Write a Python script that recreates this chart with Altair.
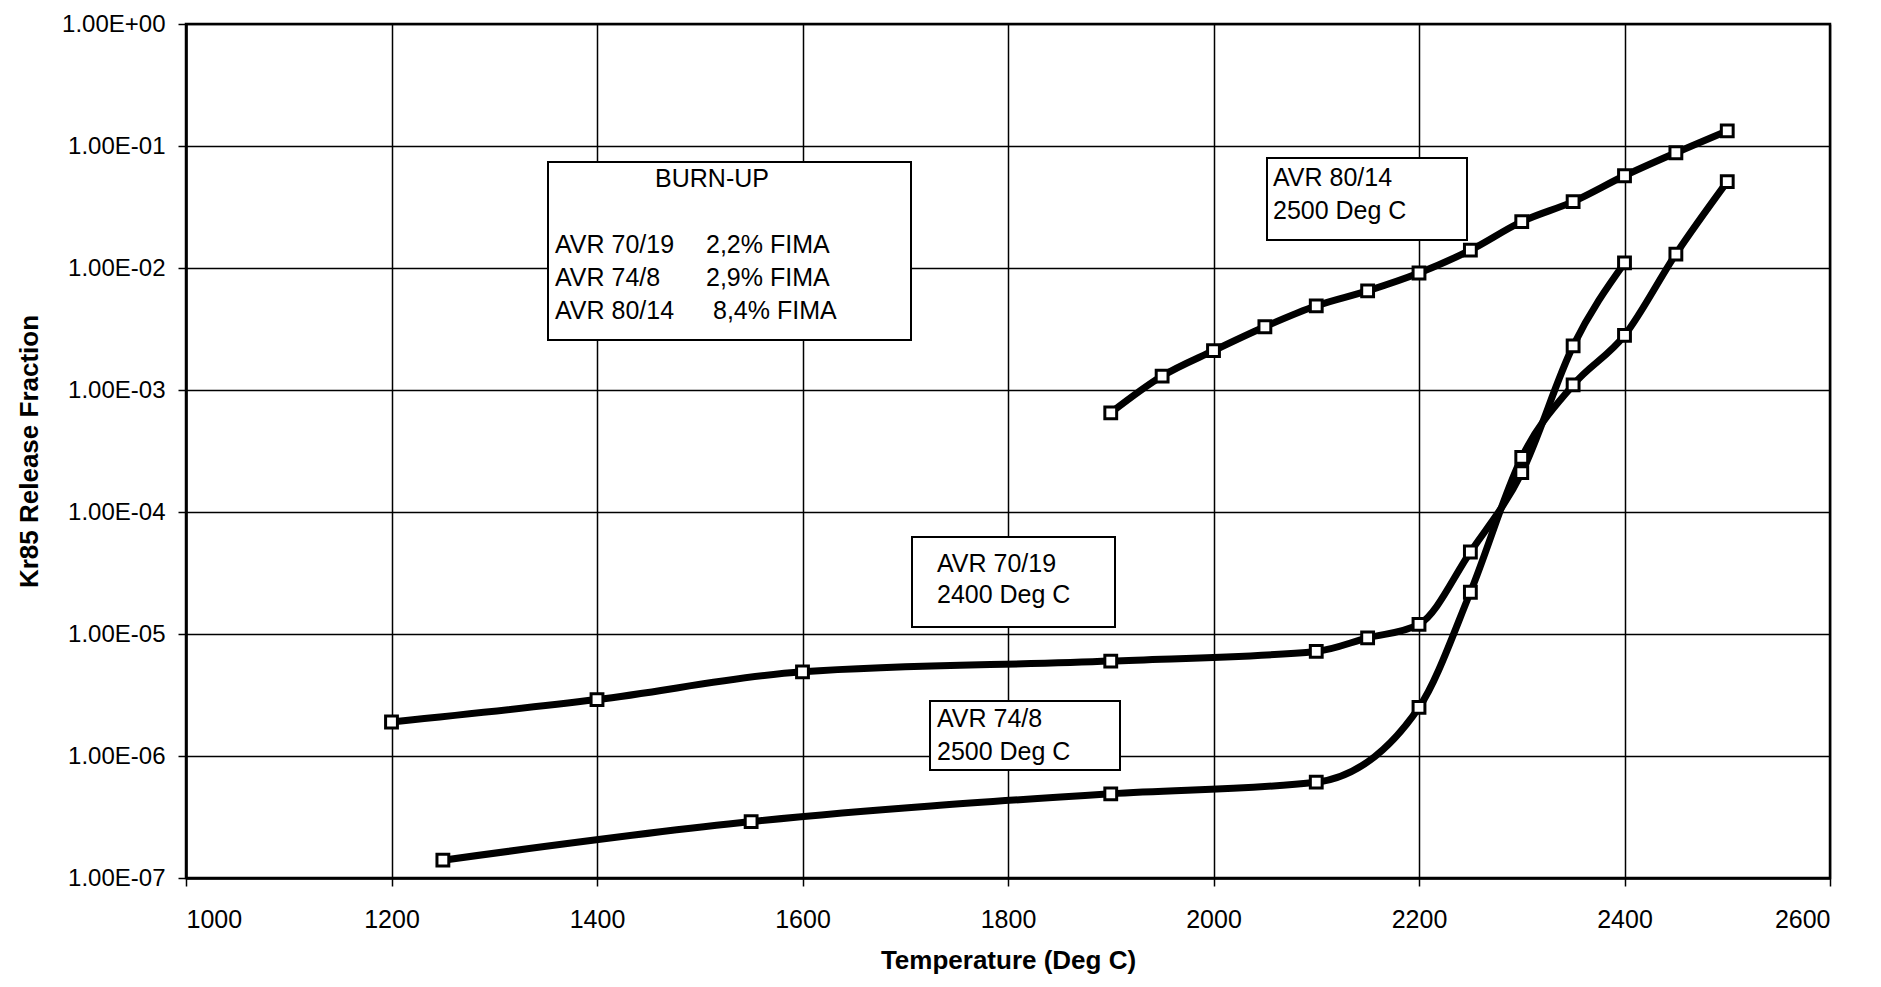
import altair as alt
import pandas as pd

# ---- data ----
temp_7019 = [1200, 1400, 1600, 1900, 2100, 2150, 2200, 2250, 2300, 2350, 2400]
frac_7019 = [1.9e-6, 2.9e-6, 4.9e-6, 6.0e-6, 7.2e-6, 9.3e-6, 1.2e-5, 4.7e-5, 2.1e-4, 2.3e-3, 1.1e-2]

temp_748 = [1250, 1550, 1900, 2100, 2200, 2250, 2300, 2350, 2400, 2450, 2500]
frac_748 = [1.4e-7, 2.9e-7, 4.9e-7, 6.1e-7, 2.5e-6, 2.2e-5, 2.8e-4, 1.1e-3, 2.8e-3, 1.3e-2, 5.1e-2]

temp_8014 = [1900, 1950, 2000, 2050, 2100, 2150, 2200, 2250, 2300, 2350, 2400, 2450, 2500]
frac_8014 = [6.5e-4, 1.3e-3, 2.1e-3, 3.3e-3, 4.9e-3, 6.5e-3, 9.1e-3, 1.4e-2, 2.4e-2, 3.5e-2, 5.7e-2, 8.8e-2, 1.33e-1]

series_names = ["AVR 70/19", "AVR 74/8", "AVR 80/14"]
x_ticks = [1000, 1200, 1400, 1600, 1800, 2000, 2200, 2400, 2600]
y_ticks = [1e-7, 1e-6, 1e-5, 1e-4, 1e-3, 1e-2, 1e-1, 1.0]

burnup_title = "BURN-UP"
burnup_names = ["AVR 70/19", "AVR 74/8", "AVR 80/14"]
burnup_values = ["2,2% FIMA", "2,9% FIMA", "8,4% FIMA"]
label_8014 = ["AVR 80/14", "2500 Deg C"]
label_7019 = ["AVR 70/19", "2400 Deg C"]
label_748 = ["AVR 74/8", "2500 Deg C"]

rows = []
for name, ts, fs in zip(series_names, [temp_7019, temp_748, temp_8014], [frac_7019, frac_748, frac_8014]):
    for t, f in zip(ts, fs):
        rows.append({"series": name, "temp": t, "frac": f})
df = pd.DataFrame(rows)

FONT = "Liberation Sans"
W, H = 1644, 854

x_enc = alt.X(
    "temp:Q",
    scale=alt.Scale(domain=[1000, 2600], nice=False, zero=False),
    axis=alt.Axis(
        values=x_ticks, title="Temperature (Deg C)", format="d",
        labelFontSize=25, labelPadding=21,
        titleX=W / 2, titleY=82, titleAlign="center", titleBaseline="middle",
    ),
)
y_enc = alt.Y(
    "frac:Q",
    scale=alt.Scale(type="log", domain=[1e-7, 1], nice=False),
    axis=alt.Axis(
        values=y_ticks, title="Kr85 Release Fraction",
        labelExpr="datum.value >= 1 ? '1.00E+00' : '1.00E-0' + round(-log(datum.value) / LN10)",
        labelFontSize=24, labelPadding=13,
        titleX=-157, titleY=H / 2, titleAngle=270, titleAlign="center", titleBaseline="middle",
    ),
)

base = alt.Chart(df)
lines = base.mark_line(interpolate="monotone", color="black", strokeWidth=7, strokeJoin="round").encode(
    x=x_enc, y=y_enc, detail="series:N"
)
points = base.mark_point(
    shape="square", filled=True, fill="white", stroke="black", strokeWidth=3, size=140, opacity=1
).encode(x="temp:Q", y="frac:Q", detail="series:N")

layers = [lines, points]


def box(x1, x2, y1, y2):
    return alt.Chart(alt.Data(values=[{}])).mark_rect(
        fill="white", stroke="black", strokeWidth=2
    ).encode(x=alt.value(x1), x2=alt.value(x2), y=alt.value(y1), y2=alt.value(y2))


def txt(s, x, y, align="left"):
    return alt.Chart(alt.Data(values=[{}])).mark_text(
        align=align, baseline="alphabetic", font=FONT, fontSize=25, color="black"
    ).encode(x=alt.value(x), y=alt.value(y), text=alt.value(s))


# BURN-UP box
layers.append(box(362, 725, 138, 316))
layers.append(txt(burnup_title, 526, 163, align="center"))
for i, (n, v) in enumerate(zip(burnup_names, burnup_values)):
    yb = [229, 262, 295][i]
    layers.append(txt(n, 369, yb))
    layers.append(txt(v, [520, 520, 527][i], yb))

# AVR 80/14 label
layers.append(box(1081, 1281, 134, 216))
layers.append(txt(label_8014[0], 1087, 162))
layers.append(txt(label_8014[1], 1087, 195))

# AVR 70/19 label
layers.append(box(726, 929, 513, 603))
layers.append(txt(label_7019[0], 751, 548))
layers.append(txt(label_7019[1], 751, 579))

# AVR 74/8 label
layers.append(box(744, 934, 677, 746))
layers.append(txt(label_748[0], 751, 703))
layers.append(txt(label_748[1], 751, 736))

chart = alt.layer(*layers).properties(
    width=W, height=H,
    padding={"left": 178, "top": 16, "right": 40, "bottom": 100},
    autosize=alt.AutoSizeParams(type="none"),
    background="white",
).configure_axis(
    grid=True, gridColor="black", gridOpacity=1, gridWidth=1.5,
    domainColor="black", domainWidth=2.5,
    tickColor="black", tickSize=8, tickWidth=1.5,
    labelFont=FONT, labelColor="black",
    titleFont=FONT, titleFontSize=26, titleFontWeight="bold", titleColor="black",
).configure_view(stroke="black", strokeWidth=2.5)

chart.save("out.html", embed_options={"renderer": "svg", "actions": False})
